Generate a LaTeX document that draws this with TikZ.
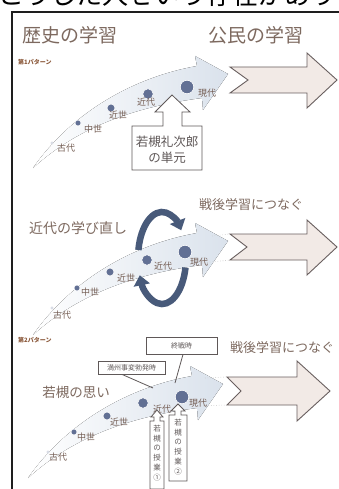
\documentclass[tikz,border=0pt]{standalone}
\usepackage{fontspec}
\setmainfont{Noto Sans CJK JP}
\usetikzlibrary{arrows.meta,calc}
\definecolor{ttl}{RGB}{125,105,95}
\definecolor{lblc}{RGB}{115,92,82}
\definecolor{frm}{RGB}{30,30,30}
\definecolor{boxln}{RGB}{95,88,88}
\definecolor{bigfill}{RGB}{242,234,230}
\definecolor{bigln}{RGB}{105,95,95}
\definecolor{dotc}{RGB}{98,112,148}
\definecolor{swc}{RGB}{218,226,236}
\definecolor{cyc}{RGB}{72,90,122}
\definecolor{patc}{RGB}{140,90,60}
\tikzset{
  ttlnode/.style={text=ttl, inner sep=0pt, font=\fontsize{19}{19}\selectfont},
  subnode/.style={text=ttl, inner sep=0pt, font=\fontsize{14}{14}\selectfont},
  lab/.style={text=lblc, inner sep=0pt, font=\fontsize{9}{9}\selectfont},
  patlbl/.style={text=patc, inner sep=0pt, font=\fontsize{6}{6}\selectfont\bfseries},
  dotn/.style={circle, fill=dotc, draw=white, line width=0.6pt, inner sep=0pt},
  swoosh/.style={left color=white, right color=swc, draw=none},
  bigarrow/.style={fill=bigfill, draw=bigln, line width=0.9pt, line join=miter},
  boxshape/.style={draw=boxln, line width=0.8pt, fill=white},
  smallbox/.style={draw=boxln, line width=0.8pt, fill=white, inner sep=0pt, text=boxln},
  cycarrow/.style={draw=cyc, line width=6.5pt, -{Triangle[width=16pt,length=10pt]}},
  dashlink/.style={draw=gray!45, dotted, line width=0.6pt},
  linkline/.style={draw=boxln, line width=0.8pt},
}
\begin{document}
\begin{tikzpicture}[x=1pt,y=-1pt]
\useasboundingbox (0,0) rectangle (339,489);
\fill[white] (0,0) rectangle (339,489);
% cut line of text at the top
\begin{scope}
\clip (0,0) rectangle (339,9.5);
\node[anchor=base west, inner sep=0pt, font=\fontsize{26}{26}\selectfont] (topline) at (-2,5) {こうした人ぜいう存在があり};
\end{scope}
% frame
\draw[frm, line width=2.5pt] (12,12.5) -- (12,489);
\draw[frm, line width=2pt] (10.75,12.5) -- (339,12.5);
% headers
\node[ttlnode] (h1) at (70,35) {歴史の学習};
\node[ttlnode] (h2) at (256,35) {公民の学習};

% ---------------- section 1
\node[patlbl, anchor=west] (p1) at (18,62) {第1パターン};
\fill[swoosh] (33,168) .. controls (70,115) and (130,78) .. (197,66) -- (195,56) -- (228,74) -- (203,110) -- (202,98) .. controls (140,106) and (80,125) .. cycle;
\draw[bigarrow] (230,67) -- (307,67) -- (307,53) -- (337,80) -- (307,108) -- (307,93) -- (230,93) -- (248,80) -- cycle;
\node[dotn, minimum size=2.6pt] (a1) at (52,143) {};
\node[dotn, minimum size=6pt] (a2) at (78,123) {};
\node[dotn, minimum size=8pt] (a3) at (111,108) {};
\node[dotn, minimum size=10.5pt] (a4) at (148,94) {};
\node[dotn, minimum size=13.5pt] (a5) at (187,87) {};
\node[lab] (la1) at (66,148) {古代};
\node[lab] (la2) at (93,129) {中世};
\node[lab] (la3) at (118,115) {近世};
\node[lab] (la4) at (146,102) {近代};
\node[lab] (la5) at (207,93) {現代};
\draw[boxshape] (172,95) -- (190,112) -- (182,112) -- (182,126) -- (202,126) -- (202,170) -- (132,170) -- (132,126) -- (163,126) -- (163,112) -- (155,112) -- cycle;
\node[text=boxln, inner sep=0pt, align=center, font=\fontsize{12.5}{15.5}\selectfont] (wb) at (167,150) {若槻礼次郎\\の単元};

% ---------------- section 2
\node[subnode, font=\fontsize{13}{13}\selectfont] (s2a) at (251,205) {戦後学習につなぐ};
\node[subnode] (s2b) at (78,228) {近代の学び直し};
\fill[swoosh] (33,335) .. controls (70,282) and (130,245) .. (197,233) -- (195,223) -- (228,241) -- (203,277) -- (202,265) .. controls (140,273) and (80,292) .. cycle;
\draw[bigarrow] (230,234) -- (307,234) -- (307,220) -- (337,247) -- (307,275) -- (307,260) -- (230,260) -- (247,247) -- cycle;
\coordinate (t2a) at (212,236);
\coordinate (t2b) at (230,234);
\coordinate (t2c) at (202,263);
\coordinate (t2d) at (230,260);
\draw[dashlink] (t2a) -- (t2b);
\draw[dashlink] (t2c) -- (t2d);
\draw[cycarrow] (138.4,250) arc[start angle=190, end angle=323, x radius=24, y radius=46];
\draw[cycarrow] (185.5,267.6) arc[start angle=12, end angle=158, x radius=24, y radius=46];
\node[dotn, minimum size=2.6pt] (b1) at (52,308) {};
\node[dotn, minimum size=6pt] (b2) at (77,288) {};
\node[dotn, minimum size=8pt] (b3) at (110,272) {};
\node[dotn, minimum size=10.5pt] (b4) at (147,260) {};
\node[dotn, minimum size=13.5pt] (b5) at (185,252) {};
\node[lab] (lb1) at (62,315) {古代};
\node[lab] (lb2) at (90,292) {中世};
\node[lab] (lb3) at (126,278) {近世};
\node[lab] (lb4) at (163,266) {近代};
\node[lab] (lb5) at (199,262) {現代};

% ---------------- section 3
\node[patlbl, anchor=west] (p2) at (18,340) {第2パターン};
\node[subnode, font=\fontsize{13}{13}\selectfont, anchor=west] (s3a) at (230,348) {戦後学習につなぐ};
\node[subnode, font=\fontsize{13.5}{13.5}\selectfont] (s3b) at (76,392) {若槻の思い};
\fill[swoosh] (28,478) .. controls (65,425) and (125,388) .. (192,376) -- (190,366) -- (223,384) -- (198,420) -- (197,408) .. controls (135,416) and (75,435) .. cycle;
\draw[bigarrow] (227,377) -- (297,377) -- (297,361) -- (330,391) -- (297,421) -- (297,405) -- (227,405) -- (241,391) -- cycle;
\coordinate (t3a) at (205,378);
\coordinate (t3b) at (227,377);
\coordinate (t3c) at (198,406);
\coordinate (t3d) at (227,405);
\draw[dashlink] (t3a) -- (t3b);
\draw[dashlink] (t3c) -- (t3d);
\node[smallbox, minimum width=71pt, minimum height=17pt, font=\fontsize{7}{7}\selectfont] (sbox) at (181.5,345.5) {終戦時};
\node[smallbox, minimum width=67pt, minimum height=13pt, font=\fontsize{7}{7}\selectfont] (mbox) at (131.5,367.5) {満州事変勃発時};
\coordinate (me) at (153,388);
\coordinate (se) at (175,383);
\draw[linkline] ($(mbox.south)+(-9.5,0)$) -- (me);
\draw[linkline] ($(sbox.south)+(1.5,0)$) -- (se);
\node[dotn, minimum size=2.6pt] (c1) at (48,452) {};
\node[dotn, minimum size=6pt] (c2) at (74,432) {};
\node[dotn, minimum size=8pt] (c3) at (107,416) {};
\node[dotn, minimum size=10.5pt] (c4) at (143,403) {};
\node[dotn, minimum size=13.5pt] (c5) at (182,397) {};
\node[lab] (lc1) at (58,457) {古代};
\node[lab] (lc2) at (86,437) {中世};
\node[lab] (lc3) at (119,422) {近世};
\node[lab] (lc4) at (162,409) {近代};
\node[lab] (lc5) at (198,403) {現代};
% vertical arrows
\draw[boxshape] (157,410) -- (163,417) -- (160,417) -- (160,421) -- (164,421) -- (164,489) -- (150,489) -- (150,421) -- (154,421) -- (154,417) -- (151,417) -- cycle;
\draw[boxshape] (178,404) -- (185,411) -- (181,411) -- (181,415) -- (187,415) -- (187,481) -- (169,481) -- (169,415) -- (175,415) -- (175,411) -- (171,411) -- cycle;
\node[text=boxln, inner sep=0pt, align=center, font=\fontsize{7.5}{9.8}\selectfont] (v1) at (157,453) {若\\槻\\の\\授\\業\\①};
\node[text=boxln, inner sep=0pt, align=center, font=\fontsize{7.5}{9.8}\selectfont] (v2) at (178,447) {若\\槻\\の\\授\\業\\②};
\end{tikzpicture}
\end{document}
